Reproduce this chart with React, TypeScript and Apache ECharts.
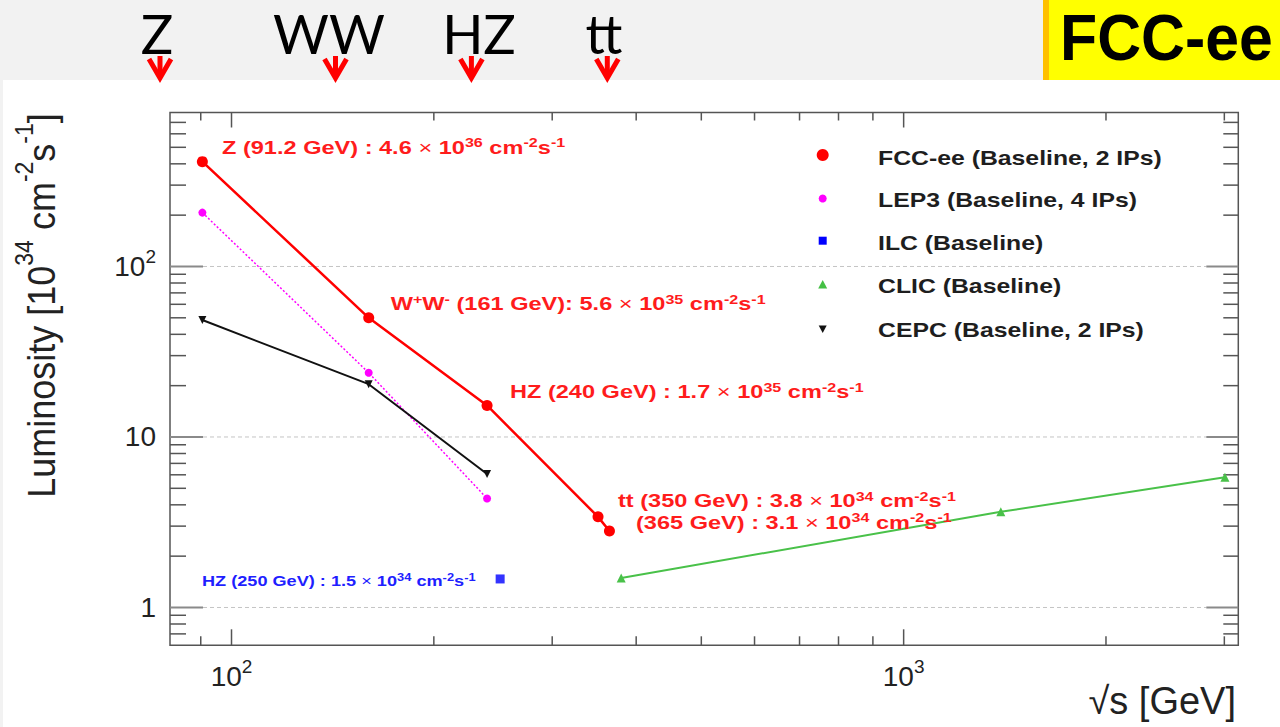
import { useEffect, useRef } from 'react';
import * as echarts from 'echarts';

// ---- data ----
const fccEnergy = [90.5, 160, 240, 351, 365];
const fccLumi = [412, 50, 15.3, 3.4, 2.81];
const lep3Energy = [90.5, 160, 240];
const lep3Lumi = [207, 23.8, 4.36];
const ilcEnergy = [251];
const ilcLumi = [1.47];
const clicEnergy = [380, 1395, 3006];
const clicLumi = [1.49, 3.64, 5.8];
const cepcEnergy = [90.5, 160, 240];
const cepcLumi = [48.5, 20.4, 6.06];

const xRange = [81, 3147];
const yRange = [0.6, 800];
const xMajorTicks = [100, 1000];
const xMinorTicks = [90, 200, 300, 400, 500, 600, 700, 800, 900, 2000, 3000];
const yMajorTicks = [1, 10, 100];
const yMinorTicks = [0.7, 0.8, 0.9, 2, 3, 4, 5, 6, 7, 8, 9, 20, 30, 40, 50, 60, 70, 80, 90, 200, 300, 400, 500, 600, 700];

const legendNames = [
  'FCC-ee (Baseline, 2 IPs)',
  'LEP3 (Baseline, 4 IPs)',
  'ILC (Baseline)',
  'CLIC (Baseline)',
  'CEPC (Baseline, 2 IPs)',
];
const processLabels = ['Z', 'WW', 'HZ', 'tt'];
const bannerTitle = 'FCC-ee';
const yTitle = '{m|Luminosity [10}{s|34}{m| cm}{s|-2}{m|s}{s|-1}{m|]}';
const xTitle = '√s [GeV]';
const fccAnnotations = [
  '{m|Z (91.2 GeV) : 4.6 }{x|×}{m| 10}{s|36}{m| cm}{s|-2}{m|s}{s|-1}',
  '{m|W}{s|+}{m|W}{s|-}{m| (161 GeV): 5.6 }{x|×}{m| 10}{s|35}{m| cm}{s|-2}{m|s}{s|-1}',
  '{m|HZ (240 GeV) : 1.7 }{x|×}{m| 10}{s|35}{m| cm}{s|-2}{m|s}{s|-1}',
  '{m|tt (350 GeV) : 3.8 }{x|×}{m| 10}{s|34}{m| cm}{s|-2}{m|s}{s|-1}',
  '{m|(365 GeV) : 3.1 }{x|×}{m| 10}{s|34}{m| cm}{s|-2}{m|s}{s|-1}',
];
const ilcAnnotation = '{m|HZ (250 GeV) : 1.5 }{x|×}{m| 10}{s|34}{m| cm}{s|-2}{m|s}{s|-1}';

const FONT = '"Liberation Sans", Arial, Helvetica, sans-serif';
const RED = '#ff1c1c';
const AXIS = '#555555';

const pair = (xs: number[], ys: number[]) => xs.map((x, i) => [x, ys[i]]);

const isPow10 = (v: number) => {
  const l = Math.log10(v);
  return Math.abs(l - Math.round(l)) < 1e-6;
};
const powLabel = (v: number) => {
  if (!isPow10(v)) return '';
  const e = Math.round(Math.log10(v));
  if (e === 0) return '{m|1}';
  if (e === 1) return '{m|10}';
  return `{m|10}{s|${e}}`;
};

const axisRich = {
  m: { fontSize: 28, fontFamily: FONT, color: '#222', verticalAlign: 'middle' },
  s: { fontSize: 19, fontFamily: FONT, color: '#222', verticalAlign: 'middle', padding: [0, 0, 20, 0] },
};

const annRich = (color: string, size: number, sup: number, raise: number) => ({
  m: { fontSize: size, fontWeight: 'bold', fontFamily: FONT, fill: color, color, verticalAlign: 'middle' },
  x: { fontSize: size, fontWeight: 'normal', fontFamily: FONT, fill: color, color, verticalAlign: 'middle' },
  s: { fontSize: sup, fontWeight: 'bold', fontFamily: FONT, fill: color, color, verticalAlign: 'middle', padding: [0, 0, raise, 0] },
});

const textEl = (x: number, y: number, text: string, extra: any, style: any) => ({
  type: 'text',
  x,
  y,
  z: 60,
  ...extra,
  style: {
    text,
    align: 'left',
    textAlign: 'left',
    verticalAlign: 'middle',
    textVerticalAlign: 'middle',
    ...style,
  },
});

export default function App() {
  const ref = useRef<HTMLDivElement>(null);

  useEffect(() => {
    if (!ref.current) return;
    const chart = echarts.init(ref.current, null, { renderer: 'svg' });

    const annPos = [
      [222, 147.5],
      [390.7, 303.7],
      [510, 392],
      [618, 500.8],
      [636, 522.5],
    ];

    const legendY = [155, 198.5, 240.7, 284.5, 329];
    const legendTextY = [158, 200.5, 243.3, 286.7, 330];
    const lx = 822.7;

    const processX = [157, 329, 479, 604];
    const arrowX = [160, 335.5, 471.4, 607.3];

    const graphics: any[] = [
      { type: 'rect', z: 0, shape: { x: 0, y: 0, width: 1280, height: 80 }, style: { fill: '#f2f2f2' } },
      { type: 'rect', z: 0, shape: { x: 0, y: 80, width: 3, height: 647 }, style: { fill: '#f2f2f2' } },
      { type: 'rect', z: 1, shape: { x: 1043, y: 0, width: 6, height: 80 }, style: { fill: '#ffc000' } },
      { type: 'rect', z: 1, shape: { x: 1049, y: 0, width: 231, height: 80 }, style: { fill: '#ffff00' } },
      textEl(1060, 37, bannerTitle, { scaleX: 0.95 }, {
        fontFamily: FONT,
        fontSize: 64,
        fontWeight: 'bold',
        fill: '#000',
      }),
    ];
    processLabels.forEach((t, i) => {
      graphics.push(
        textEl(processX[i], 33.6, t, {}, {
          fontFamily: 'Lato, "Open Sans", sans-serif',
          fontSize: 54,
          fontWeight: 'normal',
          fill: '#000',
          align: 'center',
          textAlign: 'center',
        })
      );
      const cx = arrowX[i];
      graphics.push({
        type: 'polyline',
        z: 61,
        shape: { points: [[cx - 11, 59], [cx, 78], [cx + 11, 59]] },
        style: { stroke: '#ff0000', lineWidth: 5, fill: 'none', lineJoin: 'miter' },
      });
      graphics.push({
        type: 'line',
        z: 61,
        shape: { x1: cx, y1: 56, x2: cx, y2: 74 },
        style: { stroke: '#ff0000', lineWidth: 5 },
      });
    });

    fccAnnotations.forEach((t, i) => {
      graphics.push(textEl(annPos[i][0], annPos[i][1], t, { scaleX: 1.24 }, { rich: annRich(RED, 19, 13, 9) }));
    });
    graphics.push(textEl(202, 581, ilcAnnotation, { scaleX: 1.17 }, { rich: annRich('#1f1fff', 15.5, 11, 8) }));

    // legend
    graphics.push({ type: 'circle', z: 60, shape: { cx: lx, cy: legendY[0], r: 6 }, style: { fill: '#ff0000' } });
    graphics.push({ type: 'circle', z: 60, shape: { cx: lx, cy: legendY[1], r: 4 }, style: { fill: '#ff00ff' } });
    graphics.push({ type: 'rect', z: 60, shape: { x: lx - 4, y: legendY[2] - 4, width: 8, height: 8 }, style: { fill: '#0000ff' } });
    graphics.push({
      type: 'polygon', z: 60,
      shape: { points: [[lx - 4.5, legendY[3] + 4], [lx + 4.5, legendY[3] + 4], [lx, legendY[3] - 4.5]] },
      style: { fill: '#44c044' },
    });
    graphics.push({
      type: 'polygon', z: 60,
      shape: { points: [[lx - 4, legendY[4] - 3.5], [lx + 4, legendY[4] - 3.5], [lx, legendY[4] + 4]] },
      style: { fill: '#111' },
    });
    legendNames.forEach((n, i) => {
      graphics.push(textEl(878, legendTextY[i], n, { scaleX: 1.24 }, { fontFamily: FONT, fontSize: 20, fontWeight: 'bold', fill: '#1e1e1e' }));
    });

    // axis titles
    graphics.push({
      type: 'text',
      x: 41,
      y: 305.5,
      rotation: Math.PI / 2,
      scaleY: 1.1,
      z: 60,
      style: {
        text: yTitle,
        align: 'center',
        textAlign: 'center',
        verticalAlign: 'middle',
        textVerticalAlign: 'middle',
        rich: {
          m: { fontSize: 36, fontFamily: FONT, fill: '#222', verticalAlign: 'middle' },
          s: { fontSize: 23, fontFamily: FONT, fill: '#222', verticalAlign: 'middle', padding: [0, 0, 31, 0] },
        },
      },
    });
    graphics.push(textEl(1236, 701, xTitle, {}, { fontFamily: FONT, fontSize: 38, fill: '#222', align: 'right', textAlign: 'right' }));

    const furniture = (params: any, api: any) => {
      const cs = params.coordSys;
      const L = cs.x, T = cs.y, R = cs.x + cs.width, B = cs.y + cs.height;
      const st = { stroke: AXIS, lineWidth: 1.5 };
      const ch: any[] = [];
      const ln = (x1: number, y1: number, x2: number, y2: number, style: any = st) =>
        ch.push({ type: 'line', shape: { x1, y1, x2, y2 }, style });
      xMinorTicks.forEach((v) => {
        const px = api.coord([v, 1])[0];
        ln(px, B, px, B - 9);
        ln(px, T, px, T + 8);
      });
      xMajorTicks.forEach((v) => {
        const px = api.coord([v, 1])[0];
        ln(px, B, px, B - 16);
        ln(px, T, px, T + 15);
      });
      yMinorTicks.forEach((v) => {
        const py = api.coord([100, v])[1];
        ln(L, py, L + 16, py);
        ln(R, py, R - 15, py);
      });
      yMajorTicks.forEach((v) => {
        const py = api.coord([100, v])[1];
        ln(L + 33, py, R - 32, py, { stroke: '#c4c4c4', lineWidth: 1, lineDash: [4, 3] });
        ln(L, py, L + 33, py, { stroke: '#8a8a8a', lineWidth: 2 });
        ln(R, py, R - 32, py, { stroke: '#8a8a8a', lineWidth: 2 });
      });
      return { type: 'group', children: ch };
    };

    chart.setOption({
      animation: false,
      backgroundColor: '#ffffff',
      grid: {
        left: 170,
        top: 112.5,
        right: 41.7,
        bottom: 81.7,
        show: true,
        borderColor: AXIS,
        borderWidth: 1.5,
        backgroundColor: 'transparent',
      },
      xAxis: {
        type: 'log',
        logBase: 10,
        min: xRange[0],
        max: xRange[1],
        axisLine: { show: false },
        axisTick: { show: false },
        splitLine: { show: false },
        minorTick: { show: false },
        axisLabel: { formatter: powLabel, rich: axisRich, margin: 12, hideOverlap: false },
      },
      yAxis: {
        type: 'log',
        logBase: 10,
        min: yRange[0],
        max: yRange[1],
        axisLine: { show: false },
        axisTick: { show: false },
        splitLine: { show: false },
        axisLabel: { formatter: powLabel, rich: axisRich, margin: 14, hideOverlap: false },
      },
      graphic: { elements: graphics },
      series: [
        {
          type: 'custom',
          name: 'axes',
          data: [[100, 1]],
          renderItem: furniture,
          clip: false,
          silent: true,
          z: 1,
        },
        {
          type: 'line',
          name: legendNames[1],
          data: pair(lep3Energy, lep3Lumi),
          symbol: 'circle',
          symbolSize: 8,
          lineStyle: { color: '#ff00ff', width: 1.5, type: [2, 2] },
          itemStyle: { color: '#ff00ff' },
          z: 3,
        },
        {
          type: 'line',
          name: legendNames[4],
          data: pair(cepcEnergy, cepcLumi),
          symbol: 'triangle',
          symbolRotate: 180,
          symbolSize: 8,
          lineStyle: { color: '#111111', width: 2 },
          itemStyle: { color: '#111111' },
          z: 4,
        },
        {
          type: 'line',
          name: legendNames[3],
          data: pair(clicEnergy, clicLumi),
          symbol: 'triangle',
          symbolSize: 9,
          lineStyle: { color: '#49c149', width: 2 },
          itemStyle: { color: '#49c149' },
          z: 4,
        },
        {
          type: 'scatter',
          name: legendNames[2],
          data: pair(ilcEnergy, ilcLumi),
          symbol: 'rect',
          symbolSize: 9,
          itemStyle: { color: '#0000ff' },
          z: 4,
        },
        {
          type: 'line',
          name: legendNames[0],
          data: pair(fccEnergy, fccLumi),
          symbol: 'circle',
          symbolSize: 11,
          lineStyle: { color: '#ff0000', width: 2.5 },
          itemStyle: { color: '#ff0000' },
          z: 5,
        },
      ],
    });

    return () => chart.dispose();
  }, []);

  return <div ref={ref} style={{ position: 'absolute', left: 0, top: 0, width: 1280, height: 727 }} />;
}
